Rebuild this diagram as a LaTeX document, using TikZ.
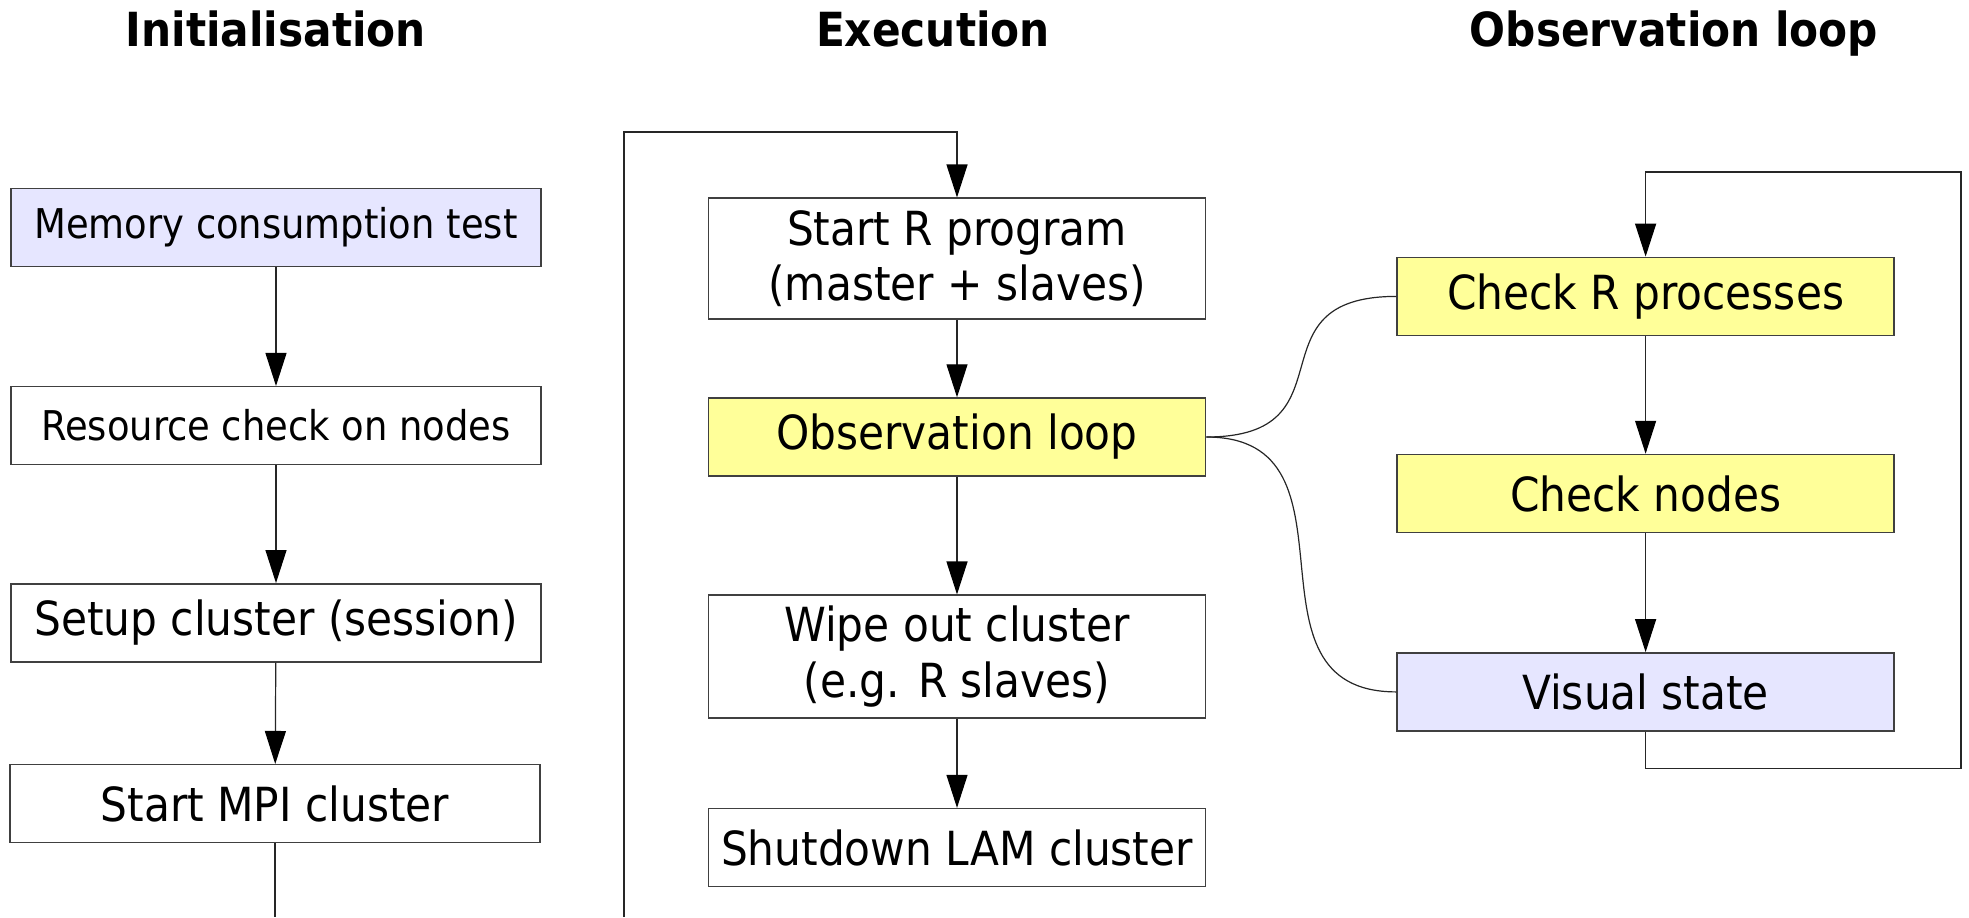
\documentclass[tikz,border=0pt]{standalone}
\usepackage{fontspec}
\IfFontExistsTF{DejaVu Sans Condensed}
	{\setmainfont{DejaVu Sans Condensed}[BoldFont={DejaVu Sans Condensed Bold}]}
	{\setmainfont{DejaVu Sans}[FakeStretch=0.9]}
\usetikzlibrary{arrows.meta}
\definecolor{lavender}{HTML}{E6E6FF}
\definecolor{paleyellow}{HTML}{FFFF99}
\definecolor{boxedge}{HTML}{404040}
\tikzset{
	box/.style={draw=boxedge, line width=0.75pt, fill=white, inner sep=0pt, align=center,
		font=\fontsize{23.5}{27.8}\selectfont, minimum height=39pt, minimum width=248.5pt},
	widebox/.style={box, minimum width=265pt},
	smalltext/.style={font=\fontsize{20.5}{24}\selectfont},
	coltitle/.style={anchor=base, font=\fontsize{23.5}{27.8}\selectfont\bfseries},
	flow/.style={draw=black!85, line width=0.6pt, -{Triangle[width=10.5pt,length=16.5pt,color=black]}},
	wire/.style={draw=black!85, line width=0.6pt}
}

\begin{document}
\begin{tikzpicture}[x=0.5pt, y=-0.5pt]
			%%%%% START %%%%%
			\useasboundingbox (0, 0) rectangle (1969, 917);
			
			\node[coltitle] (tinit) at (276, 46) {Initialisation};
			\node[coltitle] (texec) at (933, 46) {Execution};
			\node[coltitle] (tobs) at (1674, 46) {Observation loop};
			
			% initialisation
			\node[widebox, smalltext, fill=lavender] (mem) at (276, 227.3) {Memory consumption test};
			\node[widebox, smalltext] (res) at (276, 425.7) {Resource check on nodes};
			\node[widebox] (setup) at (276, 622.8) {Setup cluster (session)};
			\node[widebox] (mpi) at (275, 803.7) {Start MPI cluster};
			\coordinate (mpiend) at (275, 917);
			
			\draw[flow] (mem) -- (res);
			\draw[flow] (res) -- (setup);
			\draw[flow] (setup) -- (mpi);
			\draw[wire] (mpi) -- (mpiend);
			
			% execution
			\node[box, minimum height=60.5pt] (startr) at (957, 258.7) {Start R program\\(master + slaves)};
			\node[box, fill=paleyellow] (obs) at (957, 437) {Observation loop};
			\node[box, minimum height=61.5pt] (wipe) at (957, 656.7) {Wipe out cluster\\(e.g. R slaves)};
			\node[box] (shut) at (957, 847.6) {Shutdown LAM cluster};
			\coordinate (exbot) at (624, 917);
			\coordinate (extop) at (624, 132);
			
			\draw[flow] (exbot) -- (extop) -| (startr.north);
			\draw[flow] (startr) -- (obs);
			\draw[flow] (obs) -- (wipe);
			\draw[flow] (wipe) -- (shut);
			
			% observation loop
			\node[box, fill=paleyellow] (chkr) at (1645.6, 296.4) {Check R processes};
			\node[box, fill=paleyellow] (chkn) at (1645.6, 493.5) {Check nodes};
			\node[box, fill=lavender] (vis) at (1645.6, 691.9) {Visual state};
			\coordinate (obsbr) at (1961, 768.5);
			\coordinate (obstr) at (1961, 172);
			
			\draw[flow] (chkr) -- (chkn);
			\draw[flow] (chkn) -- (vis);
			\draw[flow] (vis.south) |- (obsbr) -- (obstr) -| (chkr.north);
			
			\draw[wire] (obs.east) .. controls +(150, 0) and +(-150, 0) .. (chkr.west);
			\draw[wire] (obs.east) .. controls +(165, 0) and +(-165, 0) .. (vis.west);
			
			%%%%% END %%%%%
		\end{tikzpicture}
\end{document}
